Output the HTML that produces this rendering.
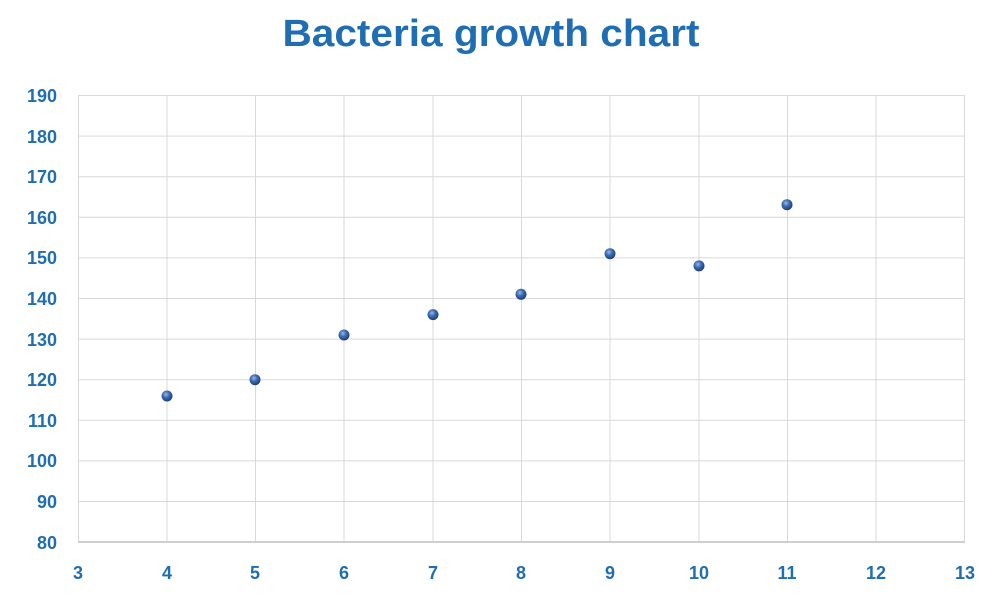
<!DOCTYPE html>
<html><head><style>html,body{margin:0;padding:0;background:#fff;}svg{display:block;}</style></head>
<body>
<svg width="991" height="603" xmlns="http://www.w3.org/2000/svg" font-family="'Liberation Sans', sans-serif">
<defs>
<radialGradient id="g" cx="0.4" cy="0.35" r="0.65">
<stop offset="0" stop-color="#9bb8e6"/><stop offset="0.45" stop-color="#3f6db4"/><stop offset="1" stop-color="#1c3f7a"/>
</radialGradient>
</defs>
<text x="491" y="46" text-anchor="middle" font-size="38" font-weight="bold" fill="#1f6db3" textLength="417" lengthAdjust="spacingAndGlyphs">Bacteria growth chart</text>
<g stroke="#d9d9d9" stroke-width="1">
<line x1="78" y1="95.5" x2="965" y2="95.5"/><line x1="78" y1="136.1" x2="965" y2="136.1"/><line x1="78" y1="176.7" x2="965" y2="176.7"/><line x1="78" y1="217.3" x2="965" y2="217.3"/><line x1="78" y1="257.9" x2="965" y2="257.9"/><line x1="78" y1="298.5" x2="965" y2="298.5"/><line x1="78" y1="339.1" x2="965" y2="339.1"/><line x1="78" y1="379.7" x2="965" y2="379.7"/><line x1="78" y1="420.3" x2="965" y2="420.3"/><line x1="78" y1="460.9" x2="965" y2="460.9"/><line x1="78" y1="501.5" x2="965" y2="501.5"/>
<line x1="78.5" y1="95" x2="78.5" y2="542"/><line x1="167" y1="95" x2="167" y2="542"/><line x1="255.5" y1="95" x2="255.5" y2="542"/><line x1="344" y1="95" x2="344" y2="542"/><line x1="433" y1="95" x2="433" y2="542"/><line x1="521.5" y1="95" x2="521.5" y2="542"/><line x1="610" y1="95" x2="610" y2="542"/><line x1="699" y1="95" x2="699" y2="542"/><line x1="787.5" y1="95" x2="787.5" y2="542"/><line x1="876" y1="95" x2="876" y2="542"/><line x1="964.5" y1="95" x2="964.5" y2="542"/>
</g>
<line x1="78" y1="542" x2="965" y2="542" stroke="#cfcfcf" stroke-width="2"/>
<g font-size="18" font-weight="bold" fill="#1f6db3" text-anchor="end">
<text x="57" y="102">190</text><text x="57" y="143">180</text><text x="57" y="183">170</text><text x="57" y="224">160</text><text x="57" y="264">150</text><text x="57" y="305">140</text><text x="57" y="346">130</text><text x="57" y="386">120</text><text x="57" y="427">110</text><text x="57" y="467">100</text><text x="57" y="508">90</text><text x="57" y="549">80</text>
</g>
<g font-size="18" font-weight="bold" fill="#1f6db3" text-anchor="middle">
<text x="78" y="579">3</text><text x="167" y="579">4</text><text x="255" y="579">5</text><text x="344" y="579">6</text><text x="433" y="579">7</text><text x="521" y="579">8</text><text x="610" y="579">9</text><text x="699" y="579">10</text><text x="787" y="579">11</text><text x="876" y="579">12</text><text x="965" y="579">13</text>
</g>
<g fill="url(#g)">
<circle cx="167" cy="396" r="5.5"/><circle cx="255" cy="379.7" r="5.5"/><circle cx="344" cy="335" r="5.5"/><circle cx="433" cy="314.6" r="5.5"/><circle cx="521" cy="294.3" r="5.5"/><circle cx="610" cy="253.7" r="5.5"/><circle cx="699" cy="265.9" r="5.5"/><circle cx="787" cy="204.7" r="5.5"/>
</g>
</svg>
</body></html>
